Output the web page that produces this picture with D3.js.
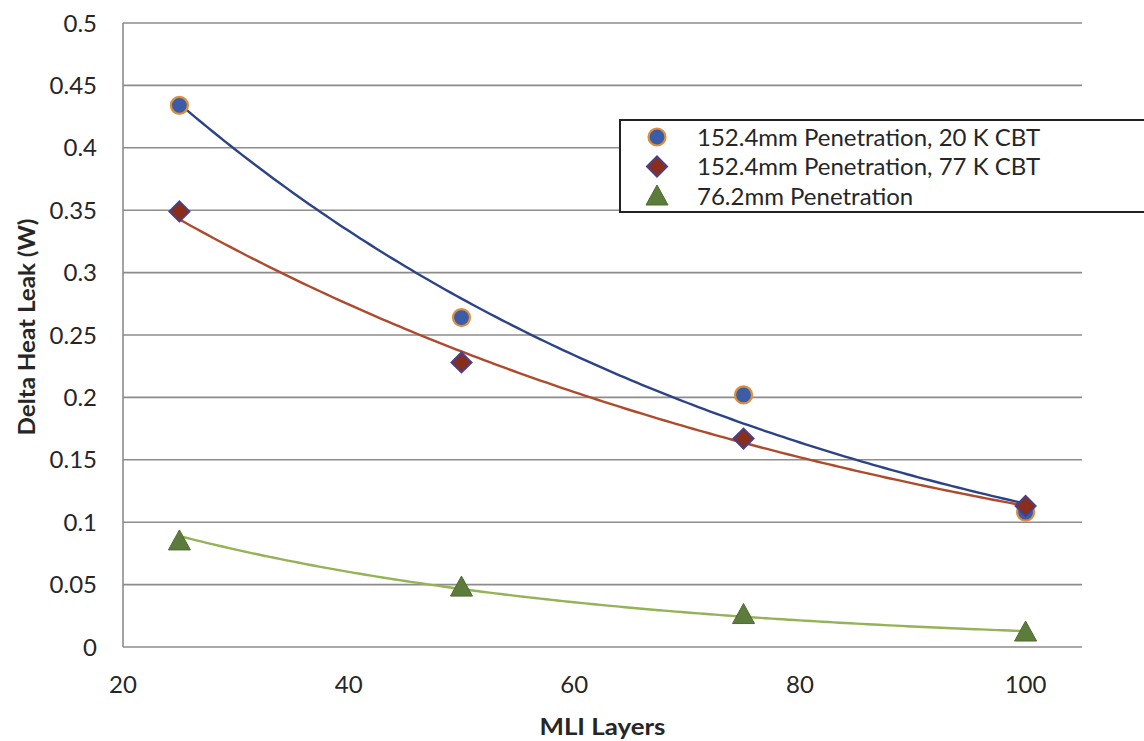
<!DOCTYPE html>
<html>
<head>
<meta charset="utf-8">
<script src="https://cdn.jsdelivr.net/npm/d3@7"></script>
<style>
  html, body { margin: 0; padding: 0; background: #fff; }
  svg { display: block; font-family: Lato, "Open Sans", sans-serif; }
</style>
</head>
<body>
<svg id="chart" width="1144" height="741"></svg>
<script>
// MLI layer counts tested
const layers = [25, 50, 75, 100];
// Delta heat leak (W) for each configuration
const leak152_20K = [0.434, 0.264, 0.202, 0.108];
const leak152_77K = [0.349, 0.228, 0.167, 0.113];
const leak76 = [0.085, 0.048, 0.026, 0.012];

const seriesNames = [
  "152.4mm Penetration, 20 K CBT",
  "152.4mm Penetration, 77 K CBT",
  "76.2mm Penetration"
];
const xTicks = [20, 40, 60, 80, 100];
const yTicks = [0, 0.05, 0.1, 0.15, 0.2, 0.25, 0.3, 0.35, 0.4, 0.45, 0.5];

const svg = d3.select("#chart");
const plot = { left: 123, right: 1082, top: 23, bottom: 647 };

const x = d3.scaleLinear().domain([20, 105]).range([plot.left, plot.right]);
const y = d3.scaleLinear().domain([0, 0.5]).range([plot.bottom, plot.top]);

// horizontal gridlines
svg.append("g")
  .selectAll("line")
  .data(yTicks)
  .join("line")
  .attr("x1", plot.left).attr("x2", plot.right)
  .attr("y1", d => y(d)).attr("y2", d => y(d))
  .attr("stroke", "#8c8c8c").attr("stroke-width", 1.6);

// vertical axis line
svg.append("line")
  .attr("x1", plot.left).attr("x2", plot.left)
  .attr("y1", plot.top).attr("y2", plot.bottom)
  .attr("stroke", "#8c8c8c").attr("stroke-width", 1.6);

// y tick labels
svg.append("g")
  .selectAll("text")
  .data(yTicks)
  .join("text")
  .attr("x", 97).attr("y", d => y(d))
  .attr("dy", "0.36em")
  .attr("text-anchor", "end")
  .attr("font-size", 24).attr("fill", "#262626")
  .text(d => d3.format("~g")(d));

// x tick labels
svg.append("g")
  .selectAll("text")
  .data(xTicks)
  .join("text")
  .attr("x", d => x(d)).attr("y", 693)
  .attr("text-anchor", "middle")
  .attr("font-size", 24).attr("fill", "#262626")
  .text(d => d);

// axis titles
svg.append("text")
  .attr("x", (plot.left + plot.right) / 2).attr("y", 735)
  .attr("text-anchor", "middle")
  .attr("font-size", 22).attr("font-weight", "bold").attr("fill", "#262626")
  .attr("textLength", 126).attr("lengthAdjust", "spacingAndGlyphs")
  .text("MLI Layers");

svg.append("text")
  .attr("transform", "translate(35,327) rotate(-90)")
  .attr("text-anchor", "middle")
  .attr("font-size", 22).attr("font-weight", "bold").attr("fill", "#262626")
  .attr("textLength", 217).attr("lengthAdjust", "spacingAndGlyphs")
  .text("Delta Heat Leak (W)");

// exponential trendline (least squares on ln y)
function expFit(xs, ys) {
  const ly = ys.map(Math.log);
  const mx = d3.mean(xs), my = d3.mean(ly);
  const b = d3.sum(xs, (v, i) => (v - mx) * (ly[i] - my)) / d3.sum(xs, v => (v - mx) ** 2);
  const a = my - b * mx;
  return t => Math.exp(a + b * t);
}

const series = [
  { vals: leak152_20K, line: "#2c4487", shape: "circle" },
  { vals: leak152_77K, line: "#b04a2c", shape: "diamond" },
  { vals: leak76, line: "#93b356", shape: "triangle" }
];

const line = d3.line().x(d => x(d[0])).y(d => y(d[1]));

series.forEach(s => {
  const f = expFit(layers, s.vals);
  const pts = d3.range(25, 100.01, 0.5).map(t => [t, f(t)]);
  svg.append("path")
    .attr("d", line(pts))
    .attr("fill", "none")
    .attr("stroke", s.line)
    .attr("stroke-width", 2.4);
});

function drawMarker(g, shape, cx, cy) {
  if (shape === "circle") {
    g.append("circle").attr("cx", cx).attr("cy", cy).attr("r", 8.5)
      .attr("fill", "#3b5ca8").attr("stroke", "#dd8f3a").attr("stroke-width", 2.2);
  } else if (shape === "diamond") {
    g.append("path")
      .attr("transform", `translate(${cx},${cy})`)
      .attr("d", "M0,-10L10,0L0,10L-10,0Z")
      .attr("fill", "#8a2e1c").attr("stroke", "#4b3e86").attr("stroke-width", 2);
  } else {
    g.append("path")
      .attr("transform", `translate(${cx},${cy})`)
      .attr("d", "M0,-11L11,9L-11,9Z")
      .attr("fill", "#5c7c3c").attr("stroke", "#4d6a30").attr("stroke-width", 1);
  }
}

// data markers
series.forEach(s => {
  const g = svg.append("g");
  layers.forEach((l, i) => drawMarker(g, s.shape, x(l), y(s.vals[i])));
});

// legend
const lg = svg.append("g");
lg.append("rect")
  .attr("x", 620).attr("y", 120).attr("width", 560).attr("height", 92)
  .attr("fill", "#fff").attr("stroke", "#222").attr("stroke-width", 2);
seriesNames.forEach((name, i) => {
  const cy = 137 + i * 29.5;
  drawMarker(lg, series[i].shape, 657, cy);
  lg.append("text")
    .attr("x", 697).attr("y", cy).attr("dy", "0.36em")
    .attr("font-size", 24).attr("fill", "#262626")
    .text(name);
});
</script>
</body>
</html>
